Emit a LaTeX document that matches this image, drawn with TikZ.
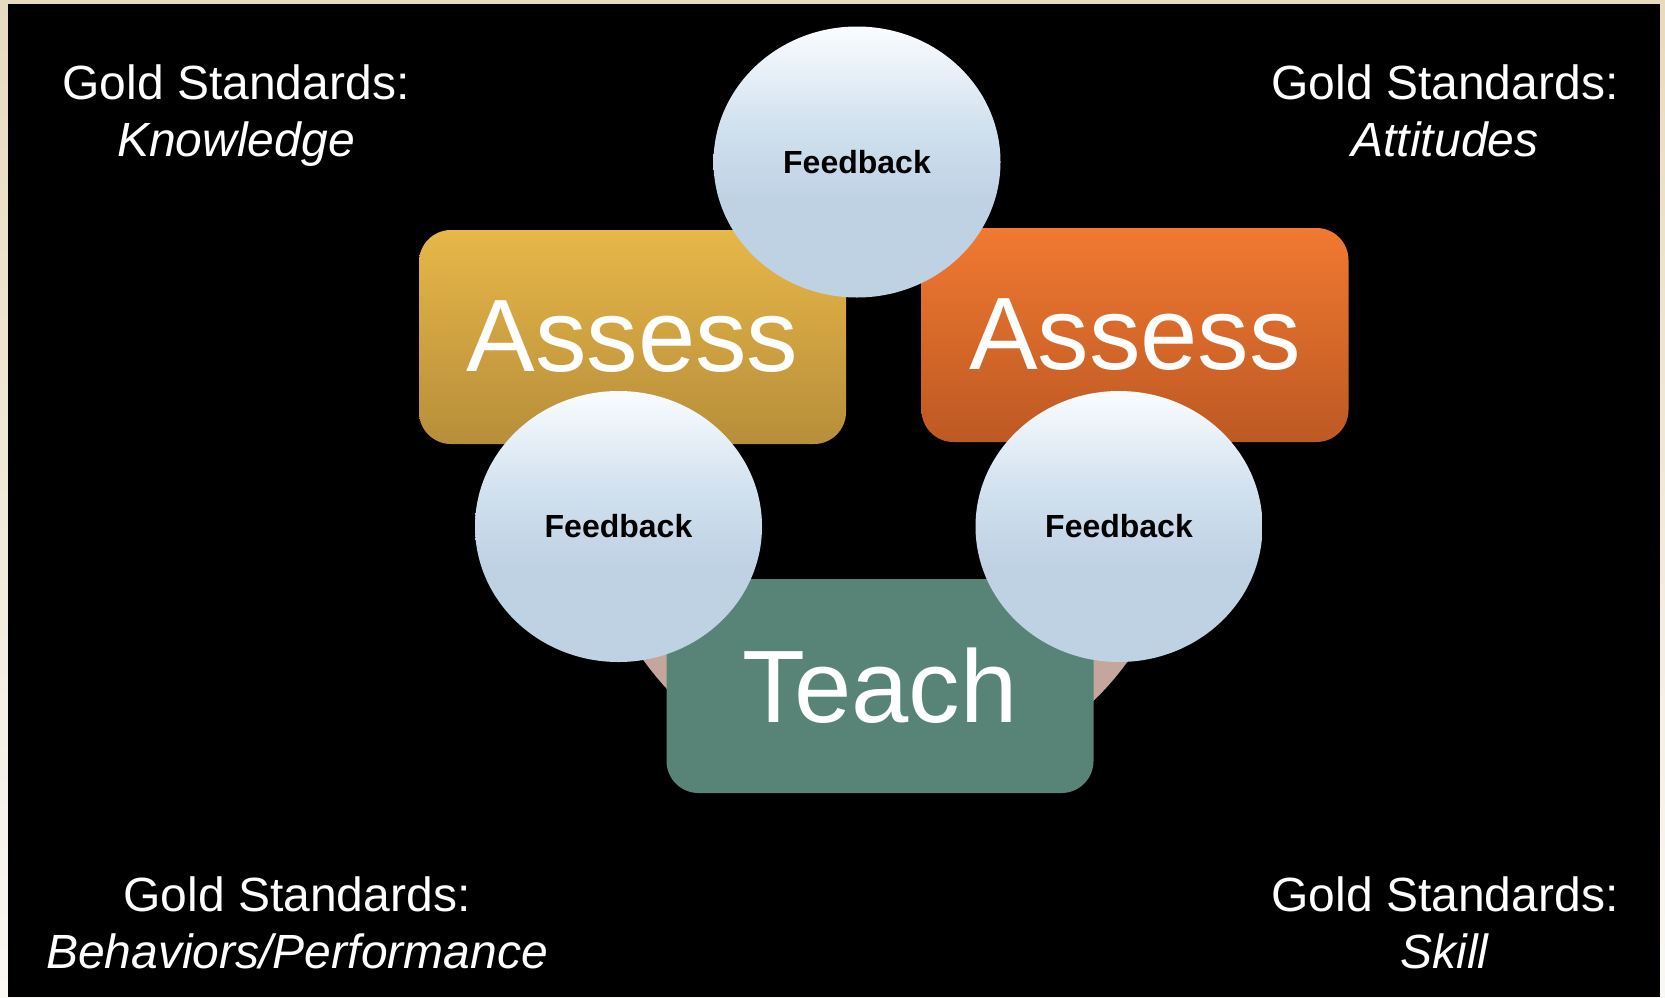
\documentclass[tikz,border=0pt]{standalone}
\usepackage{fontspec}
\setmainfont{Liberation Sans}
\usetikzlibrary{shapes.geometric}

\definecolor{frameTop}{RGB}{232,218,190}
\definecolor{frameBot}{RGB}{250,248,244}
\definecolor{goldTop}{RGB}{231,183,72}
\definecolor{goldBot}{RGB}{183,142,58}
\definecolor{orangeTop}{RGB}{241,121,49}
\definecolor{orangeBot}{RGB}{189,89,35}
\definecolor{teachGreen}{RGB}{88,132,120}
\definecolor{ringPink}{RGB}{196,166,156}
\definecolor{fbTop}{RGB}{250,252,255}
\definecolor{fbMid}{RGB}{208,224,238}
\definecolor{fbBot}{RGB}{191,210,228}

% light blue bubble: white at the top, settling into pale blue below
% (the path's bounding box spans 25bp..75bp of the shading)
\pgfdeclareverticalshading{bubble}{100bp}{%
  color(0bp)=(fbBot); color(43bp)=(fbBot); color(56bp)=(fbMid); color(75bp)=(fbTop); color(100bp)=(fbTop)}

\tikzset{
  stagebox/.style={rounded corners=32pt, minimum width=427pt, minimum height=214pt,
    inner sep=0pt, text=white, font=\fontsize{103}{110}\selectfont},
  bubblenode/.style={ellipse, shading=bubble, minimum width=287pt, minimum height=271pt,
    inner sep=0pt, text=black, font=\bfseries\fontsize{32}{36}\selectfont},
  goldlabel/.style={align=center, text=white, anchor=base, inner sep=0pt,
    font=\fontsize{48}{57}\selectfont},
}

\begin{document}
\begin{tikzpicture}[x=1pt, y=-1pt]
  % page frame and black slide area
  \useasboundingbox (0,0) rectangle (1665,997);
  \shade[top color=frameTop, bottom color=frameBot] (0,0) rectangle (1665,997);
  \fill[black] (8,4) rectangle (1660,997);

  % lower section of the cycle ring, showing beside the Teach box
  \begin{scope}
    \clip (500,520) rectangle (1300,900);
    \fill[ringPink, even odd rule] (886,487) circle[radius=298pt] (886,487) circle[radius=230pt];
  \end{scope}

  % stages
  \node[stagebox, top color=goldTop, bottom color=goldBot] (assessK) at (632.5,337) {Assess};
  \node[stagebox, top color=orangeTop, bottom color=orangeBot] (assessA) at (1135,335) {Assess};
  \node[stagebox, fill=teachGreen] (teach) at (880,686) {Teach};

  % feedback bubbles
  \node[bubblenode] (fbTopN) at (857,162) {Feedback};
  \node[bubblenode] (fbLeft) at (618.5,526.5) {Feedback};
  \node[bubblenode] (fbRight) at (1119,526.5) {Feedback};

  % corner captions
  \node[goldlabel] (gsK) at (236,156) {Gold Standards:\\\textit{Knowledge}};
  \node[goldlabel] (gsA) at (1445,156) {Gold Standards:\\\textit{Attitudes}};
  \node[goldlabel] (gsB) at (297,968) {Gold Standards:\\\textit{Behaviors/Performance}};
  \node[goldlabel] (gsS) at (1445,968) {Gold Standards:\\\textit{Skill}};
\end{tikzpicture}
\end{document}
